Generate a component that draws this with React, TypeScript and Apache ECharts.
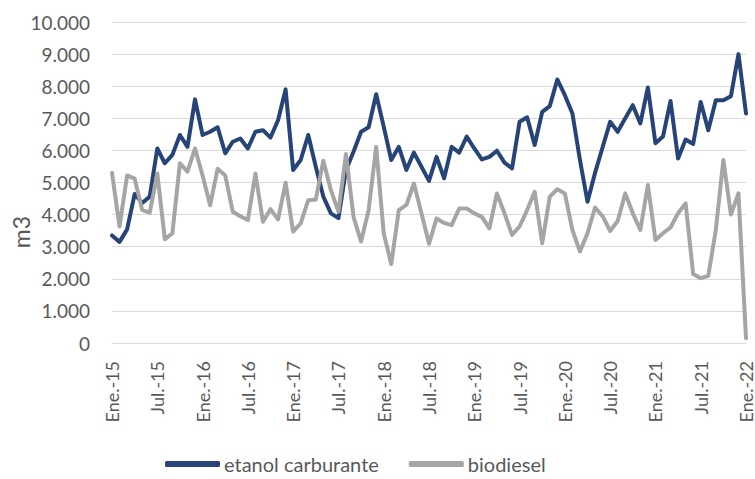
import React, { useEffect, useRef } from "react";
import * as echarts from "echarts";

const MONTHS = ["Ene.", "Feb.", "Mar.", "Abr.", "May.", "Jun.", "Jul.", "Ago.", "Sep.", "Oct.", "Nov.", "Dic."];
const YEARS = ["15", "16", "17", "18", "19", "20", "21", "22"];
const CATEGORIES: string[] = [];
YEARS.forEach((y, yi) => {
  MONTHS.forEach((m, mi) => {
    if (yi === YEARS.length - 1 && mi > 0) return;
    CATEGORIES.push(`${m}-${y}`);
  });
});

const ETANOL = [
  3350, 3150, 3540, 4640, 4360, 4560, 6060, 5600, 5860, 6480, 6110, 7590,
  6480, 6580, 6720, 5910, 6270, 6370, 6060, 6580, 6630, 6400, 6940, 7900,
  5390, 5700, 6480, 5490, 4560, 4040, 3890, 5390, 5960, 6580, 6720, 7750,
  6740, 5700, 6110, 5390, 5930, 5490, 5050, 5800, 5130, 6110, 5930, 6430,
  6060, 5720, 5800, 5990, 5620, 5440, 6890, 7030, 6170, 7200, 7380, 8210,
  7720, 7150, 5700, 4400, 5300, 6100, 6890, 6580, 7000, 7410, 6840, 7960,
  6220, 6430, 7540, 5750, 6340, 6200, 7510, 6630, 7560, 7560, 7690, 9000,
  7150,
];

const BIODIESEL = [
  5300, 3630, 5220, 5120, 4140, 4060, 5280, 3230, 3420, 5600, 5340, 6060,
  5220, 4290, 5430, 5220, 4090, 3950, 3830, 5280, 3780, 4170, 3850, 4990,
  3470, 3730, 4450, 4470, 5680, 4760, 4090, 5890, 3930, 3160, 4140, 6110,
  3420, 2460, 4140, 4300, 4970, 4040, 3090, 3880, 3740, 3670, 4190, 4190,
  4040, 3930, 3570, 4660, 4040, 3370, 3630, 4140, 4710, 3110, 4560, 4790,
  4660, 3520, 2850, 3420, 4220, 3950, 3490, 3800, 4660, 4040, 3520, 4920,
  3210, 3420, 3600, 4040, 4350, 2150, 2020, 2090, 3520, 5700, 4000, 4660,
  150,
];

const SERIES_NAMES = ["etanol carburante", "biodiesel"];
const Y_MIN = 0;
const Y_MAX = 10000;
const Y_STEP = 1000;

const FONT = "Lato, 'Open Sans', sans-serif";
const TEXT_COLOR = "#595959";

function fmt(v: number): string {
  return String(v).replace(/\B(?=(\d{3})+(?!\d))/g, ".");
}

export default function App() {
  const ref = useRef<HTMLDivElement>(null);

  useEffect(() => {
    if (!ref.current) return;
    const chart = echarts.init(ref.current, undefined, { renderer: "svg" });
    chart.setOption({
      animation: false,
      backgroundColor: "#ffffff",
      grid: { left: 112, right: 8, top: 22, bottom: 136, containLabel: false },
      xAxis: {
        type: "category",
        data: CATEGORIES,
        boundaryGap: false,
        axisLine: { show: true, lineStyle: { color: "#D9D9D9", width: 1 } },
        axisTick: { show: false },
        axisLabel: {
          interval: 5,
          rotate: 90,
          margin: 18,
          color: TEXT_COLOR,
          fontFamily: FONT,
          fontSize: 18,
        },
        splitLine: { show: false },
      },
      yAxis: {
        type: "value",
        min: Y_MIN,
        max: Y_MAX,
        interval: Y_STEP,
        axisLine: { show: false },
        axisTick: { show: false },
        axisLabel: {
          margin: 22,
          color: TEXT_COLOR,
          fontFamily: FONT,
          fontSize: 19,
          formatter: (v: number) => fmt(v),
        },
        splitLine: { show: true, lineStyle: { color: "#D9D9D9", width: 1 } },
      },
      legend: {
        top: 454,
        left: 165,
        padding: 0,
        icon: "roundRect",
        itemWidth: 55,
        itemHeight: 6,
        itemGap: 30,
        textStyle: { color: TEXT_COLOR, fontFamily: FONT, fontSize: 20, padding: [0, 0, 0, -1] },
        data: SERIES_NAMES,
      },
      graphic: [
        {
          type: "text",
          x: 21,
          y: 232,
          rotation: Math.PI / 2,
          style: {
            text: "m3",
            fill: TEXT_COLOR,
            font: `23px ${FONT}`,
            textAlign: "center",
            textVerticalAlign: "middle",
          },
        },
      ],
      series: [
        {
          name: SERIES_NAMES[0],
          type: "line",
          data: ETANOL,
          symbol: "none",
          lineStyle: { color: "#264478", width: 4, join: "round", cap: "round" },
          itemStyle: { color: "#264478" },
        },
        {
          name: SERIES_NAMES[1],
          type: "line",
          data: BIODIESEL,
          symbol: "none",
          lineStyle: { color: "#A5A5A5", width: 4, join: "round", cap: "round" },
          itemStyle: { color: "#A5A5A5" },
        },
      ],
    });
    return () => chart.dispose();
  }, []);

  return (
    <div
      ref={ref}
      style={{ position: "fixed", left: 0, top: 0, width: 755, height: 479, background: "#fff" }}
    />
  );
}
